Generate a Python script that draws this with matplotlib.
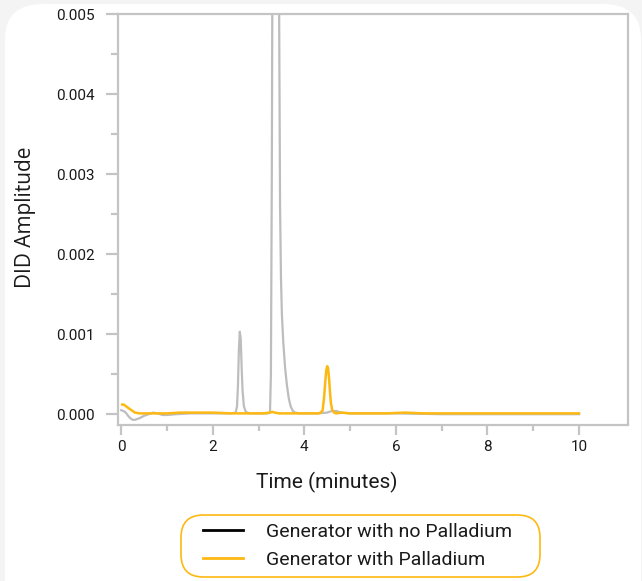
import matplotlib
matplotlib.use("Agg")
import matplotlib.pyplot as plt
from matplotlib.lines import Line2D
from matplotlib.patches import FancyBboxPatch

# ---------------- data ----------------
t_no_pd = [0.00, 0.05, 0.10, 0.15, 0.20, 0.25, 0.30, 0.40, 0.50, 0.60, 0.70, 0.80,
           0.90, 1.00, 1.20, 1.50, 2.00, 2.40, 2.50, 2.53, 2.55, 2.57, 2.59, 2.61,
           2.63, 2.65, 2.68, 2.72, 2.80, 3.00, 3.20, 3.25, 3.27, 3.29, 3.31, 3.35,
           3.40, 3.43, 3.45, 3.47, 3.49, 3.51, 3.54, 3.58, 3.62, 3.66, 3.70, 3.75,
           3.80, 3.90, 4.00, 4.30, 4.50, 4.60, 4.70, 4.80, 5.00, 5.50, 6.00, 7.00,
           8.00, 9.00, 10.00]
amp_no_pd = [0.00005, 0.00004, 0.00002, -0.00002, -0.00005, -0.00007, -0.00007,
             -0.00005, -0.00002, 0.00000, 0.00002, 0.00001, -0.00001, -0.00001,
             0.00000, 0.00001, 0.00001, 0.00001, 0.00002, 0.00010, 0.00035, 0.00080,
             0.00103, 0.00095, 0.00060, 0.00030, 0.00010, 0.00003, 0.00001, 0.00001,
             0.00001, 0.00002, 0.00050, 0.00300, 0.00700, 0.01000, 0.01100, 0.00800,
             0.00500, 0.00260, 0.00170, 0.00125, 0.00090, 0.00058, 0.00036, 0.00020,
             0.00010, 0.00004, 0.00002, 0.00001, 0.00001, 0.00001, 0.00002, 0.00004,
             0.00004, 0.00002, 0.00001, 0.00001, 0.00001, 0.00000, 0.00000, 0.00000,
             0.00000]

t_pd = [0.02, 0.06, 0.10, 0.15, 0.20, 0.25, 0.30, 0.40, 0.60, 0.80, 1.00, 1.30,
        1.60, 2.00, 2.40, 2.80, 3.10, 3.25, 3.30, 3.35, 3.45, 3.70, 4.00, 4.30,
        4.36, 4.40, 4.43, 4.46, 4.48, 4.50, 4.52, 4.54, 4.56, 4.58, 4.61, 4.65,
        4.70, 4.80, 5.00, 5.40, 5.80, 6.20, 6.60, 7.00, 7.50, 8.00, 8.50, 9.00,
        9.50, 10.00]
amp_pd = [0.00012, 0.00012, 0.00010, 0.00008, 0.00006, 0.00004, 0.00002, 0.00001,
          0.00001, 0.00001, 0.00001, 0.00002, 0.00002, 0.00002, 0.00001, 0.00001,
          0.00001, 0.00002, 0.00003, 0.00002, 0.00001, 0.00001, 0.00001, 0.00001,
          0.00002, 0.00005, 0.00020, 0.00042, 0.00055, 0.00060, 0.00057, 0.00045,
          0.00028, 0.00014, 0.00005, 0.00002, 0.00001, 0.00002, 0.00001, 0.00001,
          0.00001, 0.00002, 0.00001, 0.00001, 0.00001, 0.00001, 0.00001, 0.00001,
          0.00001, 0.00001]

x_ticks = [0, 2, 4, 6, 8, 10]
y_ticks = [0.000, 0.001, 0.002, 0.003, 0.004, 0.005]
series_labels = ["Generator with no Palladium", "Generator with Palladium"]

# ---------------- styling ----------------
GRAY = "#bdbdbd"
SPINE = "#c4c4c4"
YELLOW = "#fdb913"
TEXT = "#1a1a1a"

W, H = 642, 581
fig = plt.figure(figsize=(W / 100, H / 100), dpi=100)
fig.patch.set_facecolor("#f4f4f4")

# white rounded panel
panel = FancyBboxPatch((5 / W, -40 / H), (W - 6) / W, (H + 40 - 4) / H,
                       boxstyle="round,pad=0,rounding_size=0.06",
                       transform=fig.transFigure, facecolor="white",
                       edgecolor="none", zorder=-10)
fig.patches.append(panel)

ax = fig.add_axes([118 / W, 1 - 425 / H, (628 - 118) / W, (425 - 14) / H])
ax.set_facecolor("none")
ax.set_zorder(5)

ax.plot(t_no_pd, amp_no_pd, color=GRAY, lw=1.6, zorder=2, solid_joinstyle="round")
ax.plot(t_pd, amp_pd, color=YELLOW, lw=1.8, zorder=3, solid_joinstyle="round")

ax.set_xlim(-0.07, 11.07)
ax.set_ylim(-0.000135, 0.005)

ax.set_xticks(x_ticks)
ax.set_xticklabels([str(v) for v in x_ticks])
ax.set_xticks([1, 3, 5, 7, 9], minor=True)
ax.set_yticks(y_ticks)
ax.set_yticklabels([f"{v:.3f}" for v in y_ticks])
ax.set_yticks([0.0005, 0.0015, 0.0025, 0.0035, 0.0045], minor=True)

for s in ax.spines.values():
    s.set_color(SPINE)
    s.set_linewidth(1.6)

tick_font = "Roboto"
ax.tick_params(axis="both", which="major", color=SPINE, width=1.6,
               labelcolor=TEXT, labelsize=11)
ax.tick_params(axis="y", which="major", length=9, pad=8)
ax.tick_params(axis="x", which="major", length=7, pad=4)
ax.tick_params(axis="y", which="minor", length=5, width=1.6, color=SPINE)
ax.tick_params(axis="x", which="minor", length=4, width=1.6, color=SPINE)
for lab in ax.get_xticklabels() + ax.get_yticklabels():
    lab.set_fontfamily(tick_font)

fig.text(327 / W, 1 - 482 / H, "Time (minutes)", ha="center", va="center",
         fontsize=15, family="Roboto", color=TEXT)
fig.text(25 / W, 1 - 217 / H, "DID Amplitude", ha="center", va="center",
         rotation=90, fontsize=15, family="Open Sans", color=TEXT)

# legend frame (rounded, yellow edge)
lx0, lx1, ly0, ly1 = 181, 540, 515, 577
legbox = FancyBboxPatch((lx0 / W, 1 - ly1 / H), (lx1 - lx0) / W, (ly1 - ly0) / H,
                        boxstyle="round,pad=0,rounding_size=0.035",
                        mutation_aspect=W / H,
                        transform=fig.transFigure, facecolor="white",
                        edgecolor=YELLOW, linewidth=1.2, zorder=1)
fig.patches.append(legbox)

handles = [Line2D([], [], color="black", lw=2),
           Line2D([], [], color=YELLOW, lw=2)]
leg = fig.legend(handles, series_labels, loc="center left",
                 bbox_to_anchor=(203 / W, 1 - 546 / H),
                 frameon=False, handlelength=2.05, handletextpad=1.2,
                 labelspacing=0.5, borderpad=0, borderaxespad=0,
                 prop={"family": "Roboto", "size": 14})
leg.set_zorder(3)
for t in leg.get_texts():
    t.set_color(TEXT)

fig.savefig("out.png", dpi=100, facecolor=fig.get_facecolor())
